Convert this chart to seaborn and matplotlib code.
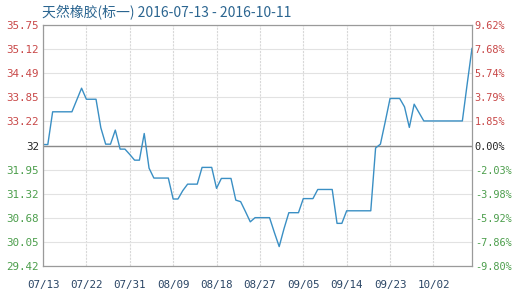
import matplotlib
matplotlib.use("Agg")
import matplotlib.pyplot as plt
import seaborn as sns
import pandas as pd
import numpy as np

title = "天然橡胶(标一) 2016-07-13 - 2016-10-11"

prices = [
    32.61, 32.61, 33.47, 33.47, 33.47, 33.47, 33.47, 33.78, 34.09, 33.80,
    33.80, 33.80, 33.05, 32.62, 32.62, 32.99, 32.49, 32.49, 32.35, 32.20,
    32.20, 32.90, 31.99, 31.73, 31.73, 31.73, 31.73, 31.18, 31.18, 31.40,
    31.57, 31.57, 31.57, 32.01, 32.01, 32.01, 31.46, 31.72, 31.72, 31.72,
    31.15, 31.11, 30.85, 30.58, 30.69, 30.69, 30.69, 30.69, 30.30, 29.93,
    30.40, 30.82, 30.82, 30.82, 31.19, 31.19, 31.19, 31.43, 31.43, 31.43,
    31.43, 30.54, 30.54, 30.87, 30.87, 30.87, 30.87, 30.87, 30.87, 32.52,
    32.62, 33.21, 33.82, 33.82, 33.82, 33.60, 33.06, 33.67, 33.45, 33.23,
    33.23, 33.23, 33.23, 33.23, 33.23, 33.23, 33.23, 33.23, 34.20, 35.14,
]
dates = pd.date_range("2016-07-13", periods=len(prices), freq="D")

x_tick_labels = ["07/13", "07/22", "07/31", "08/09", "08/18",
                 "08/27", "09/05", "09/14", "09/23", "10/02"]
y_min, y_max, y_base = 29.42, 35.75, 32.585
left_labels = ["29.42", "30.05", "30.68", "31.32", "31.95", "32",
               "33.22", "33.85", "34.49", "35.12", "35.75"]
right_labels = ["-9.80%", "-7.86%", "-5.92%", "-3.98%", "-2.03%", "0.00%",
                "1.85%", "3.79%", "5.74%", "7.68%", "9.62%"]

red = "#c84848"
green = "#4c9e4c"
dark = "#222222"

sns.set_style("white")
plt.rcParams['font.family'] = ['DejaVu Sans Mono', 'Noto Sans CJK SC']

df = pd.DataFrame({"date": dates, "price": prices})
df["day"] = (df["date"] - df["date"].iloc[0]).dt.days

fig = plt.figure(figsize=(5.15, 2.94), dpi=100)
ax = fig.add_axes([43/515, 1-266/294, (472-43)/515, (266-25)/294])

sns.lineplot(data=df, x="day", y="price", ax=ax, color="#3a8fc4", linewidth=1.0)

ax.set_xlim(0, 89)
ax.set_ylim(y_min, y_max)
yt = np.linspace(y_min, y_max, len(left_labels))
ax.set_yticks(yt)
ax.set_yticklabels(left_labels, fontsize=7.8)
xt = [i * 9 for i in range(len(x_tick_labels))]
ax.set_xticks(xt)
ax.set_xticklabels(x_tick_labels, fontsize=7.8, color="#2a4565")
ax.set_xlabel("")
ax.set_ylabel("")

ax.grid(axis="y", color="#e2e2e2", linewidth=0.8, linestyle="-")
ax.grid(axis="x", color="#d8d8d8", linewidth=0.8, linestyle=(0, (2, 1)))
ax.axhline(y_base, color="#8a8a8a", linewidth=1.0, zorder=1)
for s in ax.spines.values():
    s.set_color("#9a9a9a")
    s.set_linewidth(0.9)
ax.tick_params(axis="y", length=0, pad=3)
ax.tick_params(axis="x", length=0, pad=10)

for lab, v in zip(ax.get_yticklabels(), yt):
    if abs(v - y_base) < 1e-6:
        lab.set_color(dark)
    elif v > y_base:
        lab.set_color(red)
    else:
        lab.set_color(green)

ax2 = ax.twinx()
ax2.set_ylim(y_min, y_max)
ax2.set_yticks(yt)
ax2.set_yticklabels(right_labels, fontsize=7.4)
ax2.tick_params(axis="y", length=0, pad=2)
for s in ax2.spines.values():
    s.set_visible(False)
for lab, v in zip(ax2.get_yticklabels(), yt):
    if abs(v - y_base) < 1e-6:
        lab.set_color(dark)
    elif v > y_base:
        lab.set_color(red)
    else:
        lab.set_color(green)

fig.text(42/515, 1-13/294, title, fontsize=10, color="#2b6590",
         va="center", ha="left", family=['Noto Sans CJK SC', 'DejaVu Sans'])

fig.savefig("out.png", dpi=100)
